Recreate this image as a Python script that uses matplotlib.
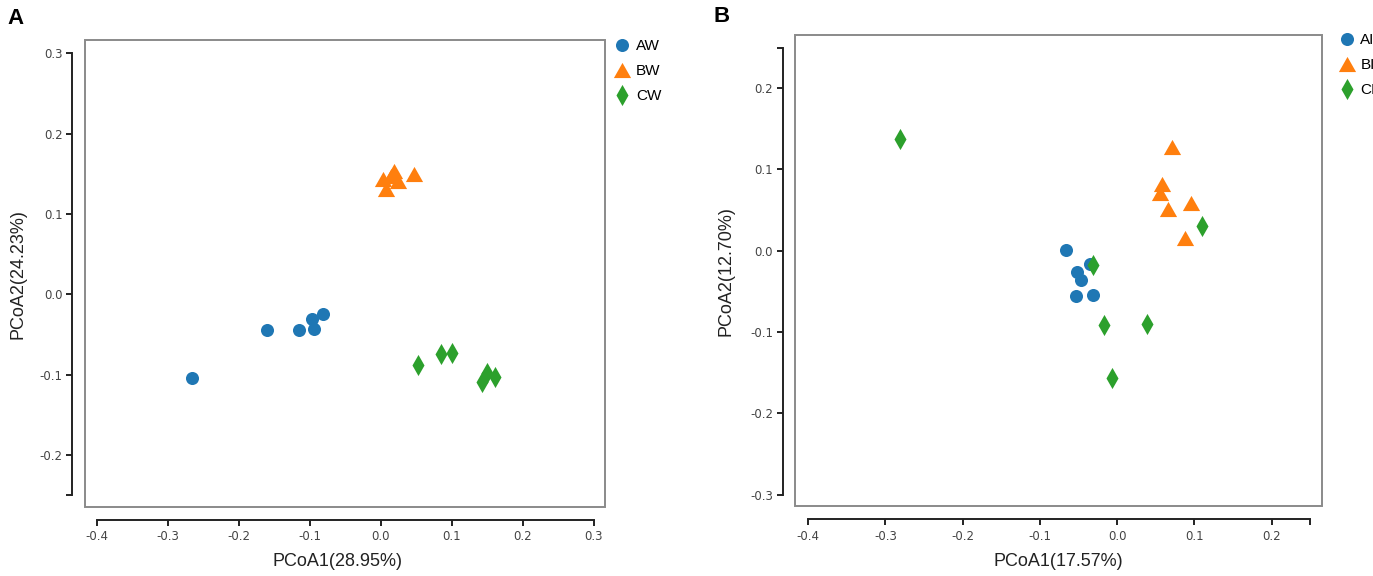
import matplotlib
matplotlib.use("Agg")
import matplotlib.pyplot as plt
from matplotlib.patches import Rectangle
from matplotlib.path import Path
import numpy as np

plt.rcParams["axes.unicode_minus"] = False

# panel A (water samples)
aw_x = [-0.267, -0.160, -0.115, -0.097, -0.094, -0.082]
aw_y = [-0.1035, -0.0445, -0.0449, -0.0312, -0.0436, -0.0248]
bw_x = [0.0186, 0.0023, 0.0073, 0.0236, 0.0463, 0.0140]
bw_y = [0.1536, 0.1431, 0.1317, 0.1408, 0.1495, 0.1470]
cw_x = [0.0525, 0.0852, 0.0997, 0.143, 0.150, 0.1606]
cw_y = [-0.0875, -0.0737, -0.0728, -0.1094, -0.098, -0.1026]

# panel B
ai_x = [-0.0657, -0.0514, -0.0469, -0.0354, -0.0531, -0.0309]
ai_y = [0.0014, -0.0262, -0.0362, -0.0167, -0.0561, -0.0548]
bi_x = [0.0714, 0.0583, 0.0560, 0.0657, 0.0960, 0.0880]
bi_y = [0.1276, 0.0824, 0.0710, 0.0516, 0.0584, 0.0158]
ci_x = [-0.2806, -0.0314, 0.1097, -0.0171, 0.0383, -0.0069]
ci_y = [0.1376, -0.0172, 0.0303, -0.0910, -0.0896, -0.1561]

labels_a = ["AW", "BW", "CW"]
labels_b = ["AI", "BI", "CI"]
xlabel_a, ylabel_a = "PCoA1(28.95%)", "PCoA2(24.23%)"
xlabel_b, ylabel_b = "PCoA1(17.57%)", "PCoA2(12.70%)"

colors = ["#1f77b4", "#ff7f0e", "#2ca02c"]
tri = Path([(-1, -0.88), (1, -0.88), (0, 0.88), (-1, -0.88)],
           [Path.MOVETO, Path.LINETO, Path.LINETO, Path.CLOSEPOLY])
dia = Path([(0, 1), (0.57, 0), (0, -1), (-0.57, 0), (0, 1)],
           [Path.MOVETO, Path.LINETO, Path.LINETO, Path.LINETO, Path.CLOSEPOLY])
markers = [("o", 9.4), (tri, 12.4), (dia, 15.2)]

W, H = 1373, 576
fig = plt.figure(figsize=(W / 100, H / 100), dpi=100)


def px_axes(l, t, r, b):
    return fig.add_axes([l / W, 1 - b / H, (r - l) / W, (b - t) / H])


def setup(ax, xlim, ylim, xb, yb, xt, yt, xminor, yminor, offx, offy):
    ax.set_xlim(*xlim)
    ax.set_ylim(*ylim)
    for s in ["top", "right"]:
        ax.spines[s].set_visible(False)
    ax.spines["left"].set_position(("outward", offy))
    ax.spines["bottom"].set_position(("outward", offx))
    ax.spines["left"].set_bounds(*yb)
    ax.spines["bottom"].set_bounds(*xb)
    for s in ["left", "bottom"]:
        ax.spines[s].set_linewidth(1.4)
        ax.spines[s].set_color("#222222")
    ax.set_xticks(xt)
    ax.set_yticks(yt)
    ax.set_xticklabels([f"{v:.1f}" for v in xt])
    ax.set_yticklabels([f"{v:.1f}" for v in yt])
    ax.set_xticks(xminor, minor=True)
    ax.set_yticks(yminor, minor=True)
    ax.tick_params(which="both", length=4.3, width=1.4, color="#222222",
                   labelsize=8.5, labelcolor="#444444")
    ax.tick_params(axis="x", pad=3.2)
    ax.tick_params(axis="y", pad=2.6)
    ax.add_patch(Rectangle((0, 0), 1, 1, transform=ax.transAxes, fill=False,
                           ec="#8a8a8a", lw=1.4, clip_on=False, zorder=5))


def scatter_groups(ax, xs, ys, labels):
    for x, y, lab, c, (m, ms) in zip(xs, ys, labels, colors, markers):
        ax.plot(x, y, linestyle="none", marker=m, ms=ms, color=c,
                mec=c, mew=0, label=lab)


# ---- panel A ----
axA = px_axes(84.7, 40.4, 605.4, 507)
setup(axA, (-0.4176, 0.3164), (-0.2645, 0.316), (-0.4, 0.3), (-0.25, 0.3),
      [-0.4, -0.3, -0.2, -0.1, 0.0, 0.1, 0.2, 0.3],
      [-0.2, -0.1, 0.0, 0.1, 0.2, 0.3], [], [-0.25], 9.4, 9.0)
scatter_groups(axA, [aw_x, bw_x, cw_x], [aw_y, bw_y, cw_y], labels_a)

# ---- panel B ----
axB = px_axes(794.6, 34.9, 1322, 506.3)
setup(axB, (-0.4177, 0.2654), (-0.3145, 0.2656), (-0.4, 0.25), (-0.3, 0.25),
      [-0.4, -0.3, -0.2, -0.1, 0.0, 0.1, 0.2],
      [-0.3, -0.2, -0.1, 0.0, 0.1, 0.2], [0.25], [0.25], 9.5, 8.6)
scatter_groups(axB, [ai_x, bi_x, ci_x], [ai_y, bi_y, ci_y], labels_b)

lab_font = dict(family="Liberation Sans", fontsize=13, color="#222222")
for ax, xl, yl, lx, ly in [(axA, xlabel_a, ylabel_a, 338, 18),
                           (axB, xlabel_b, ylabel_b, 1058, 726)]:
    fig.text(lx / W, 1 - 561 / H, xl, ha="center", va="center", **lab_font)
    pos = ax.get_position()
    fig.text(ly / W, (pos.y0 + pos.y1) / 2, yl, rotation=90, ha="center",
             va="center", **lab_font)

for ax, (lx, ly) in [(axA, (614.4, 39)), (axB, (1339, 33))]:
    ax.legend(loc="upper left", bbox_to_anchor=(lx / W, 1 - ly / H),
              bbox_transform=fig.transFigure, frameon=False, borderpad=0,
              borderaxespad=0, handlelength=1.0, handletextpad=0.4,
              labelspacing=0.72, numpoints=1,
              prop=dict(family="Liberation Sans", size=11))

fig.text(16 / W, 1 - 19 / H, "A", ha="center", va="center",
         family="Liberation Sans", fontsize=16, fontweight="bold")
fig.text(722 / W, 1 - 17 / H, "B", ha="center", va="center",
         family="Liberation Sans", fontsize=16, fontweight="bold")

fig.savefig("out.png", dpi=100)
